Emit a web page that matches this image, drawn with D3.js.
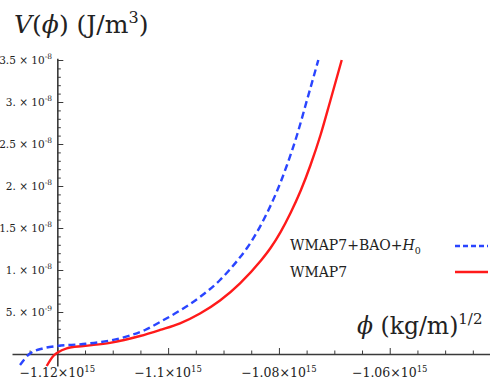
<!DOCTYPE html>
<html><head><meta charset="utf-8">
<script src="https://cdn.jsdelivr.net/npm/d3@7/dist/d3.min.js"></script>
<style>body{margin:0;background:#fff}svg{display:block}</style>
</head><body><svg id="c" width="490" height="381"></svg>
<script>
// ---- data (x: phi in (kg/m)^1/2, y: V in J/m^3) ----
const blueX = [-1.126733e15,-1.125054e15,-1.122527e15,-1.12e15,-1.115361e15,-1.110487e15,-1.106877e15,-1.104169e15,-1.101462e15,-1.097851e15,-1.094241e15,-1.090631e15,-1.087562e15,-1.085757e15,-1.083952e15,-1.082147e15,-1.080342e15,-1.078537e15,-1.076732e15,-1.074927e15,-1.072887e15];
const blueY = [-1.31e-9,0,0.68e-9,0.95e-9,1.19e-9,1.61e-9,2.20e-9,2.86e-9,3.81e-9,5.18e-9,6.79e-9,8.81e-9,11.07e-9,12.62e-9,14.52e-9,16.79e-9,19.40e-9,22.50e-9,26.07e-9,30.24e-9,35.0e-9];
const redX = [-1.121913e15,-1.120722e15,-1.12e15,-1.118303e15,-1.115307e15,-1.110487e15,-1.105072e15,-1.101462e15,-1.097851e15,-1.094241e15,-1.090631e15,-1.087021e15,-1.08332e15,-1.081515e15,-1.07971e15,-1.077905e15,-1.0761e15,-1.074295e15,-1.07249e15,-1.070685e15,-1.068663e15];
const redY = [-1.43e-9,-0.24e-9,0.15e-9,0.68e-9,0.95e-9,1.33e-9,2.14e-9,2.86e-9,3.65e-9,4.82e-9,6.37e-9,8.42e-9,11.07e-9,12.62e-9,14.52e-9,16.79e-9,19.40e-9,22.50e-9,26.07e-9,30.24e-9,35.0e-9];
const xTicks = [-1.12e15,-1.10e15,-1.08e15,-1.06e15];
const xTickMant = ["\u22121.12","\u22121.1","\u22121.08","\u22121.06"];
const xTickExp = ["15","15","15","15"];
const xMinor = [-1.125e15,-1.115e15,-1.11e15,-1.105e15,-1.095e15,-1.09e15,-1.085e15,-1.075e15,-1.07e15,-1.065e15,-1.055e15,-1.05e15,-1.045e15];
const yTicks = [5e-9,1e-8,1.5e-8,2e-8,2.5e-8,3e-8,3.5e-8];
const yTickMant = ["5.","1.","1.5","2.","2.5","3.","3.5"];
const yTickExp = ["-9","-8","-8","-8","-8","-8","-8"];
const yMinor = d3.range(1,36).filter(i=>i%5!==0).map(i=>i*1e-9);
const seriesNames = ["WMAP7+BAO+","WMAP7"];
const xDomain = [-1.12818e15,-1.0419e15];
const yDomain = [-1.43e-9,3.52e-8];

// ---- chart ----
const FONT = "'DejaVu Serif','Liberation Serif',serif";
const svg = d3.select("#c");
const x = d3.scaleLinear().domain(xDomain).range([12,490]);
const y = d3.scaleLinear().domain([0,3.5e-8]).range([354,60]);
const yAx = d3.scaleLinear().domain(yDomain).range([y(yDomain[0]),y(yDomain[1])]);
const axColor = "#3a3a3a";
const txt = (sel)=>sel.append("text").attr("font-family",FONT).attr("fill","#222");

// x axis
const gx = svg.append("g").attr("transform",`translate(0,${y(0)})`);
gx.call(d3.axisBottom(x).tickValues(xTicks).tickSizeInner(-6).tickSizeOuter(0).tickFormat(""));
gx.append("g").call(d3.axisBottom(x).tickValues(xMinor).tickSizeInner(-3.5).tickSizeOuter(0).tickFormat(""))
  .select(".domain").remove();
gx.selectAll(".domain").attr("stroke",axColor).attr("stroke-width",1.6);
gx.selectAll(".tick line").attr("stroke",axColor).attr("stroke-width",1);
xTicks.forEach((v,i)=>{
  const t = txt(svg).attr("x",x(v)).attr("y",377).attr("text-anchor","middle").attr("font-size",12.5);
  t.append("tspan").text(xTickMant[i]+"\u00d710");
  t.append("tspan").attr("dy",-5).attr("font-size",8.5).text(xTickExp[i]);
});

// y axis
const gy = svg.append("g").attr("transform",`translate(${x(-1.12e15)},0)`);
gy.call(d3.axisLeft(yAx).tickValues(yTicks).tickSizeInner(-6).tickSizeOuter(0).tickFormat(""));
gy.append("g").call(d3.axisLeft(yAx).tickValues(yMinor).tickSizeInner(-3.5).tickSizeOuter(0).tickFormat(""))
  .select(".domain").remove();
gy.selectAll(".domain").attr("stroke",axColor).attr("stroke-width",1.6);
gy.selectAll(".tick line").attr("stroke",axColor).attr("stroke-width",1);
yTicks.forEach((v,i)=>{
  const t = txt(svg).attr("x",52).attr("y",y(v)+4).attr("text-anchor","end").attr("font-size",10.5);
  t.append("tspan").text(yTickMant[i]+" \u00d7 10");
  t.append("tspan").attr("dy",-5).attr("font-size",7.5).text(yTickExp[i]);
});

// curves
const line = d3.line().curve(d3.curveMonotoneX).x(d=>x(d[0])).y(d=>y(d[1]));
svg.append("path").datum(redX.map((v,i)=>[v,redY[i]]))
  .attr("d",line).attr("fill","none").attr("stroke","#ff1a1a").attr("stroke-width",2.4);
svg.append("path").datum(blueX.map((v,i)=>[v,blueY[i]]))
  .attr("d",line).attr("fill","none").attr("stroke","#2a45ff").attr("stroke-width",2.4).attr("stroke-dasharray","7,4");

// axis labels
const tl = txt(svg).attr("x",14).attr("y",33).attr("font-size",25);
tl.append("tspan").attr("font-style","italic").text("V");
tl.append("tspan").text("(");
tl.append("tspan").attr("font-style","italic").text("\u03d5");
tl.append("tspan").text(") (J/m");
tl.append("tspan").attr("dy",-10).attr("font-size",16).text("3");
tl.append("tspan").attr("dy",10).text(")");

const xl = txt(svg).attr("x",357).attr("y",334).attr("font-size",23.5);
xl.append("tspan").attr("font-style","italic").text("\u03d5");
xl.append("tspan").text(" (kg/m)");
xl.append("tspan").attr("dy",-10).attr("font-size",15).text("1/2");

// legend
const l1 = txt(svg).attr("x",290).attr("y",250).attr("font-size",14);
l1.append("tspan").text(seriesNames[0]);
l1.append("tspan").attr("font-style","italic").text("H");
l1.append("tspan").attr("dy",4).attr("font-size",9.5).text("0");
txt(svg).attr("x",290).attr("y",277).attr("font-size",14).text(seriesNames[1]);
svg.append("line").attr("x1",455).attr("x2",488).attr("y1",246).attr("y2",246)
  .attr("stroke","#2a45ff").attr("stroke-width",2.4).attr("stroke-dasharray","5,3");
svg.append("line").attr("x1",455).attr("x2",488).attr("y1",272).attr("y2",272)
  .attr("stroke","#ff1a1a").attr("stroke-width",2.4);
</script></body></html>
